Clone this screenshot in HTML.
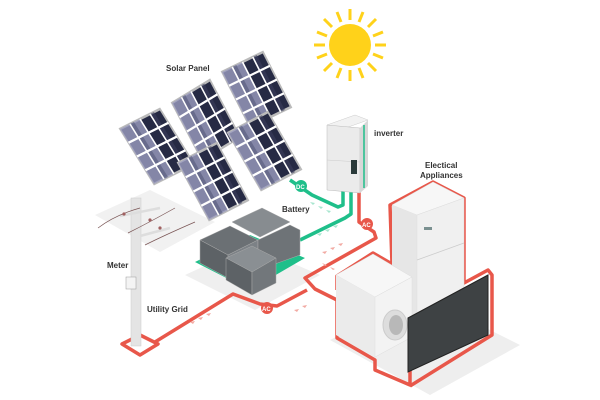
<!DOCTYPE html>
<html><head><meta charset="utf-8"><style>
html,body{margin:0;padding:0;background:#fff;width:600px;height:400px;overflow:hidden}
text{font-family:"Liberation Sans",sans-serif;font-size:8px;font-weight:bold;fill:#333}
</style></head><body>
<svg width="600" height="400" viewBox="0 0 600 400" xmlns="http://www.w3.org/2000/svg">
<defs>
<g id="pn">
<rect width="1" height="1" fill="#262a44" stroke="#bbb" stroke-width="0.04"/>
<rect width="0.5" height="1" fill="#9c9ec0" opacity="0.8"/>
<rect x="0.25" width="0.1" height="1" fill="#555a7a" opacity="0.6"/>
<rect x="0.75" width="0.1" height="1" fill="#3a3e5c" opacity="0.6"/>
<path d="M.25 0V1M.5 0V1M.75 0V1M0 .25H1M0 .5H1M0 .75H1" stroke="#fff" stroke-width="0.035" fill="none"/>
</g>
</defs>
<!-- ground shadows -->
<polygon points="95,215 150,190 215,222 160,252" fill="#f1f1f1"/>
<polygon points="185,275 250,245 320,275 255,310" fill="#efefef"/>
<polygon points="330,340 420,295 520,345 430,395" fill="#eeeeee"/>
<!-- sun -->
<g transform="translate(350,45)">
<g stroke="#ffd21a" stroke-width="3">
<line x1="0" y1="-25" x2="0" y2="-36"/><line x1="0" y1="25" x2="0" y2="36"/>
<line x1="-25" y1="0" x2="-36" y2="0"/><line x1="25" y1="0" x2="36" y2="0"/>
<line x1="18" y1="18" x2="26" y2="26"/><line x1="-18" y1="18" x2="-26" y2="26"/>
<line x1="18" y1="-18" x2="26" y2="-26"/><line x1="-18" y1="-18" x2="-26" y2="-26"/>
<line x1="9" y1="-23" x2="13" y2="-33"/><line x1="-9" y1="-23" x2="-13" y2="-33"/>
<line x1="9" y1="23" x2="13" y2="33"/><line x1="-9" y1="23" x2="-13" y2="33"/>
<line x1="23" y1="9" x2="33" y2="13"/><line x1="-23" y1="9" x2="-33" y2="13"/>
<line x1="23" y1="-9" x2="33" y2="-13"/><line x1="-23" y1="-9" x2="-33" y2="-13"/>
</g>
<circle r="21" fill="#ffd21a"/>
</g>
<!-- panels -->
<use href="#pn" transform="matrix(40,-20,34,55,120,129)"/>
<use href="#pn" transform="matrix(38,-23,30,57,172,103)"/>
<use href="#pn" transform="matrix(41,-20,28,55,222,72)"/>
<use href="#pn" transform="matrix(39,-20,31,57,178,163)"/>
<use href="#pn" transform="matrix(40,-21,33,57,228,133)"/>
<!-- green cables -->
<g fill="none" stroke="#1fbf8a" stroke-width="3.5" stroke-linejoin="round">
<polyline points="290,180 312,195 338,207 343,205 343,190"/>
<polyline points="351,190 351,214 345,218 300,240"/>
</g>
<g fill="#a8e6cf"><path d="M310 202l5 1-2 2zM318 206l5 1-2 2zM326 210l5 1-2 2zM317 234l5-1-2 3zM325 230l5-1-2 3zM333 226l5-1-2 3z"/></g>
<circle cx="301" cy="186" r="6" fill="#1fbf8a"/><text x="296" y="189" style="font-size:6px;fill:#fff">DC</text>
<!-- red cables -->
<g fill="none" stroke="#e8574a" stroke-width="3.5" stroke-linejoin="round">
<polyline points="359,190 359,222 374,232 376,238 305,278 315,289 337,300"/>
<polyline points="307,290 277,306 260,304 233,294 155,342"/>
<polygon points="122,344 140,335 158,344 140,355"/>
<polyline points="337,300 337,338 375,360 375,370 410,385 410,370"/>
<polyline points="337,290 337,276 373,253 392,264 390,205 433,182 464,198 464,283 488,270 492,275 492,335 410,386"/>
</g>
<g fill="#f2aaa3"><path d="M330 248l5-1-2 3zM338 244l5-1-2 3zM322 252l5-1-2 3zM322 263l5 2-2 1zM330 267l5 2-2 1zM190 322l5-1-2 3zM198 318l5-1-2 3zM206 314l5-1-2 3zM294 310l5-1-2 3zM302 306l5-1-2 3z"/></g>
<circle cx="367" cy="224" r="6" fill="#e8574a"/><text x="362" y="227" style="font-size:6px;fill:#fff">AC</text>
<circle cx="267" cy="308" r="6" fill="#e8574a"/><text x="262" y="311" style="font-size:6px;fill:#fff">AC</text>
<!-- inverter -->
<polygon points="327,125 355,115 368,120 340,130" fill="#f2f2f2" stroke="#ccc" stroke-width="0.5"/>
<polygon points="327,125 360,128 360,193 327,190" fill="#ebebeb" stroke="#bbb" stroke-width="0.5"/>
<polygon points="360,128 368,120 368,186 360,193" fill="#d8d8d8"/>
<line x1="364" y1="125" x2="364" y2="188" stroke="#1fbf8a" stroke-width="1.5"/>
<line x1="327" y1="160" x2="360" y2="162" stroke="#ccc" stroke-width="0.6"/>
<rect x="351" y="160" width="6" height="14" fill="#2a3a3a"/>
<!-- pole -->
<rect x="131" y="198" width="10" height="148" fill="#e4e4e4" stroke="#ccc" stroke-width="0.5"/>
<g stroke="#ddd" stroke-width="2.5"><line x1="120" y1="216" x2="160" y2="208"/><line x1="140" y1="236" x2="170" y2="228"/></g>
<g stroke="#7a5555" stroke-width="0.7" fill="none">
<path d="M98 228 Q115 215 140 208"/><path d="M128 233 Q150 222 175 208"/><path d="M145 245 Q165 235 195 222"/>
</g>
<g fill="#a06060"><circle cx="124" cy="214" r="1.6"/><circle cx="150" cy="220" r="1.6"/><circle cx="160" cy="228" r="1.6"/></g>
<rect x="126" y="277" width="10" height="12" fill="#f4f4f4" stroke="#999" stroke-width="0.5"/>
<!-- battery -->
<polygon points="195,262 250,235 305,258 250,290" fill="#1fbf8a"/>
<g fill="#6b7074" stroke="#aaa" stroke-width="0.5">
<polygon points="200,240 230,226 258,240 228,255"/>
<polygon points="200,240 228,255 228,278 200,263" fill="#5d6266"/>
<polygon points="228,255 258,240 258,265 228,278" fill="#7c8186"/>
<polygon points="232,222 262,208 290,222 260,237" fill="#878c90"/>
<polygon points="258,240 290,225 300,230 300,255 258,270" fill="#6e7377"/>
<polygon points="226,258 252,246 276,258 252,272" fill="#8a8f93"/>
<polygon points="226,258 252,272 252,295 226,280" fill="#5d6266"/>
<polygon points="252,272 276,258 276,283 252,295" fill="#72777b"/>
</g>
<!-- fridge -->
<polygon points="392,205 433,182 464,198 417,215" fill="#f7f7f7" stroke="#ddd" stroke-width="0.5"/>
<polygon points="392,205 417,215 417,330 392,318" fill="#e6e6e6"/>
<polygon points="417,215 464,198 464,290 417,330" fill="#f0f0f0" stroke="#ddd" stroke-width="0.5"/>
<line x1="417" y1="260" x2="464" y2="243" stroke="#ccc" stroke-width="0.8"/>
<rect x="424" y="227" width="8" height="3" fill="#7a9090"/>
<!-- washer -->
<polygon points="336,275 373,254 412,277 375,297" fill="#f7f7f7" stroke="#ddd" stroke-width="0.5"/>
<polygon points="336,275 375,297 375,357 336,335" fill="#ebebeb"/>
<polygon points="375,297 412,277 412,337 375,357" fill="#f3f3f3" stroke="#ddd" stroke-width="0.5"/>
<ellipse cx="395" cy="325" rx="12" ry="15" fill="#ddd" stroke="#ccc"/>
<ellipse cx="396" cy="325" rx="7" ry="10" fill="#b8b8b8"/>
<!-- tv -->
<polygon points="408,318 488,275 488,335 408,372" fill="#3e4244" stroke="#222" stroke-width="1"/>
<!-- labels -->
<text x="166" y="71">Solar Panel</text>
<text x="374" y="136">inverter</text>
<text x="425" y="168">Electical</text>
<text x="420" y="178">Appliances</text>
<text x="282" y="212">Battery</text>
<text x="107" y="268">Meter</text>
<text x="147" y="312">Utility Grid</text>
</svg>
</body></html>
